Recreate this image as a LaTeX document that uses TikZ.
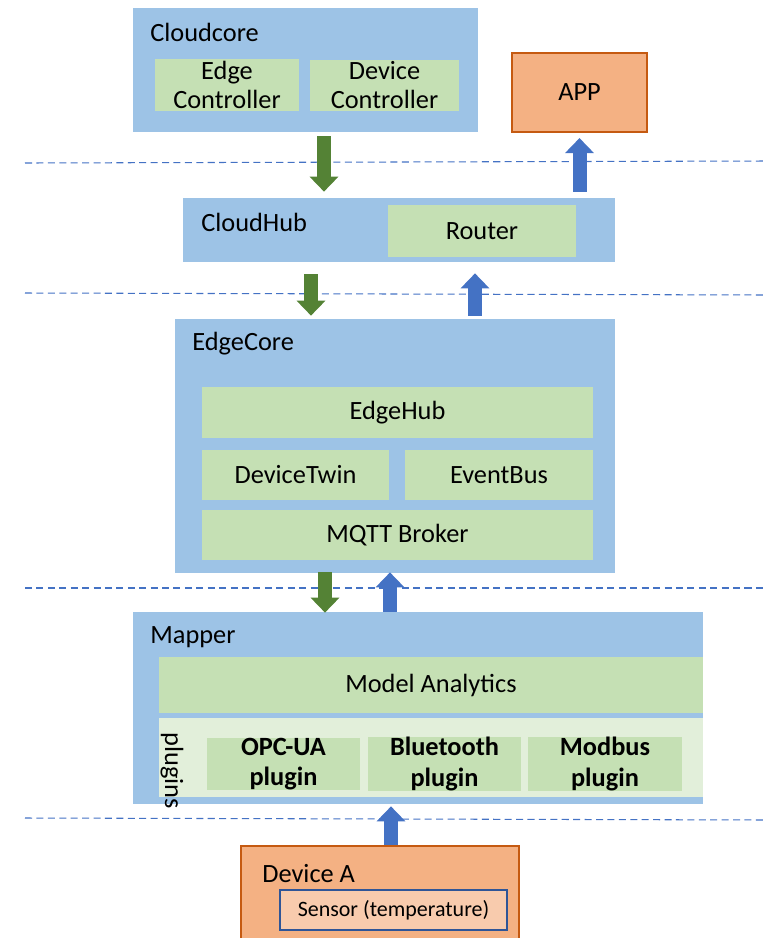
\documentclass[tikz,border=0pt]{standalone}
\usepackage{fontspec}
\setmainfont{Carlito}
\usetikzlibrary{arrows.meta}
\definecolor{boxblue}{HTML}{9DC3E6}
\definecolor{boxgreen}{HTML}{C5E0B4}
\definecolor{palegreen}{HTML}{E2EFDA}
\definecolor{boxorange}{HTML}{F4B183}
\definecolor{paleorange}{HTML}{F8CBAD}
\definecolor{rimorange}{HTML}{C55A11}
\definecolor{rimblue}{HTML}{2F5597}
\definecolor{arrowgreen}{HTML}{548235}
\definecolor{arrowblue}{HTML}{4472C4}

\begin{document}
\begin{tikzpicture}[x=0.02cm,y=-0.02cm,
    every node/.style={font=\fontsize{15}{16.5}\selectfont},
    size/.style 2 args={minimum width=#1*0.02cm,minimum height=#2*0.02cm},
    layer/.style={fill=boxblue,inner sep=0pt},
    part/.style={fill=boxgreen,inner sep=0pt,align=center},
    plugin/.style={part,font=\fontsize{15}{17.5}\selectfont\bfseries},
    device/.style={fill=boxorange,draw=rimorange,line width=1.2pt,inner sep=0pt},
    title/.style={anchor=west,inner sep=0pt},
    flow/.style={line width=0.28cm,-{Triangle[width=0.56cm,length=0.3cm]}},
    down/.style={flow,arrowgreen},
    up/.style={flow,arrowblue},
    tier/.style={arrowblue,line width=0.6pt,dash pattern=on 4pt off 2.5pt}]
                 \useasboundingbox (0,0) rectangle (766,938);
                 \draw[tier] (25,163) -- (766,161);
                 \draw[tier] (25,293) -- (766,295);
                 \draw[tier] (25,588) -- (766,588);
                 \draw[tier] (25,818) -- (766,820);
                 \node[layer,size={345}{124}] (cloudcore) at (305.5,70) {};
                 \node[title] (cloudcoretitle) at (150,32) {Cloudcore};
                 \node[part,size={144}{52}] (edgectrl) at (227,85) {Edge\\Controller};
                 \node[part,size={149}{51}] (devicectrl) at (384.5,85.5) {Device\\Controller};
                 \node[device,size={135}{79}] (app) at (579.5,92.5) {APP};
                 \node[layer,size={432}{64}] (cloudhub) at (399,230) {};
                 \node[title] (cloudhubtitle) at (201,222) {CloudHub};
                 \node[part,size={188}{52}] (router) at (482,231) {Router};
                 \node[layer,size={440}{254}] (edgecore) at (395,446) {};
                 \node[title] (edgecoretitle) at (192,344) {EdgeCore};
                 \node[part,size={391}{51}] (edgehub) at (397.5,412.5) {EdgeHub};
                 \node[part,size={187}{50}] (devicetwin) at (295.5,475) {DeviceTwin};
                 \node[part,size={188}{50}] (eventbus) at (499,475) {EventBus};
                 \node[part,size={391}{50}] (mqtt) at (397.5,535) {MQTT Broker};
                 \node[layer,size={570}{192}] (mapper) at (418,708) {};
                 \node[title] (mappertitle) at (150,637) {Mapper};
                 \node[part,size={544}{56}] (analytics) at (431,685) {Model Analytics};
                 \node[fill=palegreen,inner sep=0pt,size={544}{79}] (plugins) at (431,757.5) {};
                 \node[inner sep=0pt,rotate=-90] (pluginstitle) at (172,771) {plugins};
                 \node[plugin,size={153}{50}] (opcua) at (283.5,764) {OPC-UA\\plugin};
                 \node[plugin,size={153}{50}] (bluetooth) at (444.5,764) {Bluetooth\\plugin};
                 \node[plugin,size={154}{50}] (modbus) at (605,764) {Modbus\\plugin};
                 \node[device,size={278}{102}] (devicea) at (380,897) {};
                 \node[title] (deviceatitle) at (262,874) {Device A};
                 \node[fill=paleorange,draw=rimblue,line width=1.3pt,inner sep=0pt,
                       size={227}{40},font=\fontsize{12.5}{14}\selectfont] (sensor) at (393.5,910) {Sensor (temperature)};
                 \draw[down] ([shift={(18.5,4)}]cloudcore.south) -- ([shift={(18.5,-6)}]cloudcore.south |- cloudhub.north);
                 \draw[up] ([shift={(0,-6)}]app.south |- cloudhub.north) -- ([shift={(0,5)}]app.south);
                 \draw[down] ([shift={(-88,12)}]cloudhub.south) -- ([shift={(-88,-3)}]cloudhub.south |- edgecore.north);
                 \draw[up] ([shift={(76,-3)}]cloudhub.south |- edgecore.north) -- ([shift={(76,11)}]cloudhub.south);
                 \draw[down] ([shift={(-70,-1)}]edgecore.south) -- ([shift={(-70,1)}]edgecore.south |- mapper.north);
                 \draw[up] ([shift={(-5,0)}]edgecore.south |- mapper.north) -- ([shift={(-5,-1)}]edgecore.south);
                 \draw[up] ([shift={(11,0)}]devicea.north) -- ([shift={(11,2)}]devicea.north |- mapper.south);
            \end{tikzpicture}
\end{document}
